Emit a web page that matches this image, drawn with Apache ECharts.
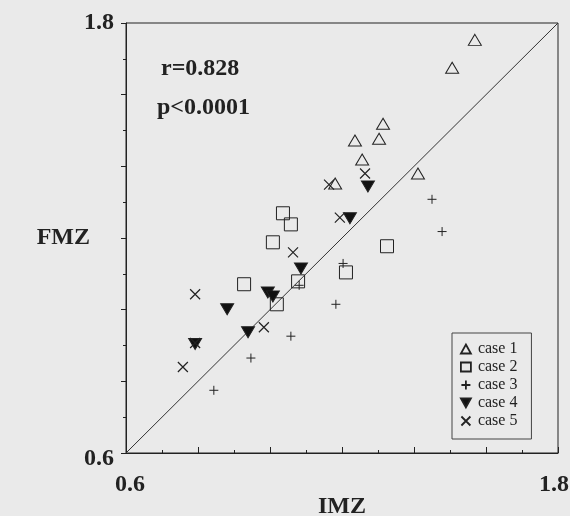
<!DOCTYPE html>
<html>
<head>
<meta charset="utf-8">
<script src="https://cdn.jsdelivr.net/npm/echarts@6/dist/echarts.min.js"></script>
<style>
  html, body { margin: 0; padding: 0; background: #eaeaea; }
  #chart { width: 570px; height: 516px; }
</style>
</head>
<body>
<div id="chart"></div>
<script>
// values (IMZ on x, FMZ on y)
const caseNames = ['case 1', 'case 2', 'case 3', 'case 4', 'case 5'];

const case1X = [1.569, 1.506, 1.314, 1.236, 1.303, 1.256, 1.181, 1.411];
const case1Y = [1.753, 1.675, 1.519, 1.472, 1.477, 1.419, 1.352, 1.380];

const case2X = [1.036, 1.058, 1.008, 1.325, 0.928, 1.078, 1.211, 1.019];
const case2Y = [1.269, 1.238, 1.188, 1.177, 1.071, 1.079, 1.104, 1.015];

const case3X = [1.450, 1.478, 1.203, 1.081, 1.183, 1.058, 0.947, 0.844];
const case3Y = [1.308, 1.218, 1.129, 1.068, 1.015, 0.926, 0.865, 0.775];

const case4X = [1.272, 1.222, 1.086, 0.994, 1.008, 0.881, 0.939, 0.792];
const case4Y = [1.344, 1.255, 1.115, 1.048, 1.037, 1.001, 0.937, 0.904];

const case5X = [1.264, 1.164, 1.194, 1.064, 0.792, 0.983, 0.758, 0.792];
const case5Y = [1.380, 1.349, 1.257, 1.160, 1.043, 0.951, 0.840, 0.907];

const identityLine = [[0.6, 0.6], [1.8, 1.8]];
const statR = 'r=0.828';
const statP = 'p<0.0001';

const serif = '"Liberation Serif", "DejaVu Serif", serif';
const ink = '#222';

function pairs(xs, ys) {
    return xs.map((x, i) => [x, ys[i]]);
}

function isNear(a, b) {
    return Math.abs(a - b) < 1e-6;
}

// only the two ends carry a label; small nudges to sit like the scan
function xLabel(v) {
    if (isNear(v, 0.6)) return '{lo|0.6}';
    if (isNear(v, 1.8)) return '{hi|1.8}';
    return '';
}

function yLabel(v) {
    if (isNear(v, 0.6)) return '{lo|0.6}';
    if (isNear(v, 1.8)) return '1.8';
    return '';
}

function scatterSeries(name, xs, ys, symbol, size, fill, bw) {
    return {
        name: name,
        type: 'scatter',
        data: pairs(xs, ys),
        symbol: symbol,
        symbolSize: size,
        itemStyle: {
            color: fill,
            borderColor: ink,
            borderWidth: bw,
            opacity: 1
        },
        emphasis: { disabled: true },
        z: 3
    };
}

function getOption() {
    const labelFont = {
        color: ink,
        fontFamily: serif,
        fontWeight: 'bold',
        fontSize: 24
    };

    const axisCommon = {
        type: 'value',
        min: 0.6,
        max: 1.8,
        interval: 0.2,
        splitLine: { show: false },
        axisLine: { show: true, lineStyle: { color: ink, width: 1 } },
        nameTextStyle: Object.assign({}, labelFont),
        nameMoveOverlap: false,
        minorTick: { show: true, splitNumber: 2, length: 3, lineStyle: { color: ink } }
    };

    return {
        backgroundColor: '#eaeaea',
        animation: false,
        grid: {
            left: 126,
            right: 12,
            top: 23,
            bottom: 63,
            outerBoundsMode: 'none',
            containLabel: false,
            show: true,
            borderColor: ink,
            borderWidth: 1
        },
        xAxis: Object.assign({}, axisCommon, {
            name: 'IMZ',
            nameLocation: 'middle',
            nameGap: 42,
            axisTick: { show: true, inside: true, length: 6, lineStyle: { color: ink } },
            axisLabel: Object.assign({}, labelFont, {
                margin: 20,
                formatter: xLabel,
                rich: {
                    lo: Object.assign({}, labelFont, { padding: [0, 0, 0, 8] }),
                    hi: Object.assign({}, labelFont, { padding: [0, 8, 0, 0] })
                }
            })
        }),
        yAxis: Object.assign({}, axisCommon, {
            name: 'FMZ',
            nameLocation: 'middle',
            nameRotate: 0,
            nameGap: 36,
            nameTextStyle: Object.assign({}, labelFont, { padding: [12, 0, 0, 0] }),
            axisTick: { show: true, inside: false, length: 5, lineStyle: { color: ink } },
            axisLabel: Object.assign({}, labelFont, {
                margin: 12,
                formatter: yLabel,
                rich: {
                    lo: Object.assign({}, labelFont, { padding: [12, 0, 0, 0] })
                }
            })
        }),
        legend: {
            data: caseNames,
            orient: 'vertical',
            left: 452,
            top: 333,
            padding: [8, 14, 10, 8],
            itemGap: 2,
            itemWidth: 10,
            itemHeight: 9,
            borderColor: '#444',
            borderWidth: 1,
            selectedMode: false,
            itemStyle: { borderWidth: 1.8 },
            textStyle: { color: ink, fontFamily: serif, fontSize: 16, padding: [0, 0, 0, 2] }
        },
        graphic: [
            {
                type: 'text',
                left: 161,
                top: 57,
                style: { text: statR, fill: ink, font: 'bold 24px ' + serif }
            },
            {
                type: 'text',
                left: 157,
                top: 96,
                style: { text: statP, fill: ink, font: 'bold 24px ' + serif }
            }
        ],
        series: [
            {
                name: 'identity',
                type: 'line',
                data: identityLine,
                symbol: 'none',
                silent: true,
                lineStyle: { color: '#333', width: 1 },
                z: 2
            },
            scatterSeries(caseNames[0], case1X, case1Y, 'triangle', [13, 11], 'transparent', 1),
            scatterSeries(caseNames[1], case2X, case2Y, 'rect', 13, 'transparent', 1),
            scatterSeries(caseNames[2], case3X, case3Y, 'path://M5,0L5,10M0,5L10,5', 9, 'transparent', 1),
            scatterSeries(caseNames[3], case4X, case4Y, 'path://M0,0L10,0L5,9Z', [13, 11], '#111', 1),
            scatterSeries(caseNames[4], case5X, case5Y, 'path://M0,0L10,10M10,0L0,10', 10, 'transparent', 1.2)
        ]
    };
}

function loadChart() {
    const chart = echarts.init(document.getElementById('chart'));
    chart.setOption(getOption());
    window.addEventListener('resize', () => {
        chart.resize();
    });
}

loadChart();
</script>
</body>
</html>
